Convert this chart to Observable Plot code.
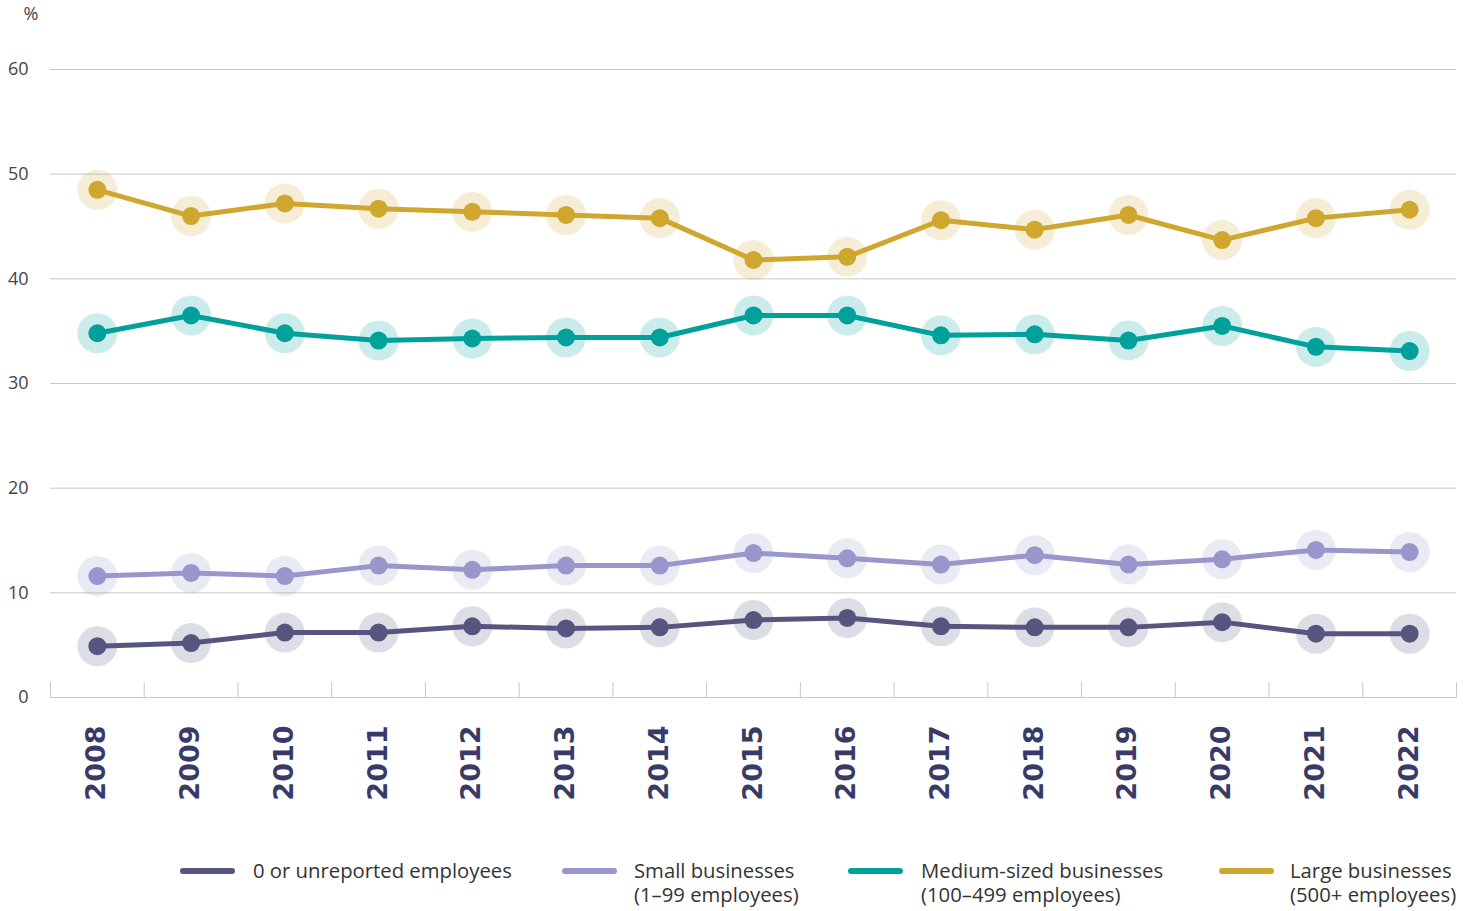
<!DOCTYPE html>
<html>
<head>
<meta charset="utf-8">
<script src="https://cdn.jsdelivr.net/npm/d3@7"></script>
<script src="https://cdn.jsdelivr.net/npm/@observablehq/plot@0.6"></script>
<style>
  html, body { margin: 0; padding: 0; background: #fff; }
  #wrap { position: relative; width: 1473px; font-family: "Open Sans", sans-serif; }
  #legend { position: relative; width: 1473px; height: 71px; }
  .sw { position: absolute; top: 28px; width: 55px; height: 6px; border-radius: 3px; }
  .lab { position: absolute; top: 18px; font-size: 20.3px; line-height: 24px; color: #333; white-space: nowrap; }
</style>
</head>
<body>
<div id="wrap">
  <div id="chart"></div>
  <div id="legend"></div>
</div>
<script>
const years = [2008, 2009, 2010, 2011, 2012, 2013, 2014, 2015, 2016, 2017, 2018, 2019, 2020, 2021, 2022];
const zeroEmp   = [4.9, 5.2, 6.2, 6.2, 6.8, 6.6, 6.7, 7.4, 7.6, 6.8, 6.7, 6.7, 7.2, 6.1, 6.1];
const smallBiz  = [11.6, 11.9, 11.6, 12.6, 12.2, 12.6, 12.6, 13.8, 13.3, 12.7, 13.6, 12.7, 13.2, 14.1, 13.9];
const mediumBiz = [34.8, 36.5, 34.8, 34.1, 34.3, 34.4, 34.4, 36.5, 36.5, 34.6, 34.7, 34.1, 35.5, 33.5, 33.1];
const largeBiz  = [48.5, 46.0, 47.2, 46.7, 46.4, 46.1, 45.8, 41.8, 42.1, 45.6, 44.7, 46.1, 43.7, 45.8, 46.6];
const yTicks = [0, 10, 20, 30, 40, 50, 60];

const seriesNames = ["0 or unreported employees", "Small businesses\n(1\u201399 employees)", "Medium-sized businesses\n(100\u2013499 employees)", "Large businesses\n(500+ employees)"];
const seriesValues = [zeroEmp, smallBiz, mediumBiz, largeBiz];
const seriesColors = ["#55557f", "#9797cc", "#00a09b", "#cfa72f"];

const rows = seriesValues.map((vals, s) => years.map((yr, i) => ({year: yr, value: vals[i], s})));
const bounds = years.map(y => y - 0.5).concat([years[years.length - 1] + 0.5]);

const tickShape = { draw(context, l) { context.moveTo(0, 0); context.lineTo(0, -l); } };

const seriesMarks = rows.flatMap((data, s) => [
  Plot.dot(data, {x: "year", y: "value", r: 20, fill: seriesColors[s], fillOpacity: 0.2, stroke: null}),
  Plot.line(data, {x: "year", y: "value", stroke: seriesColors[s], strokeWidth: 5}),
  Plot.dot(data, {x: "year", y: "value", r: 9, fill: seriesColors[s], stroke: null})
]);

const chart = Plot.plot({
  width: 1473,
  height: 840,
  marginLeft: 50,
  marginRight: 17,
  marginTop: 69,
  marginBottom: 143,
  style: {fontFamily: "Open Sans, sans-serif", background: "#fff"},
  x: {type: "linear", domain: [bounds[0], bounds[bounds.length - 1]], axis: null},
  y: {domain: [0, 60], axis: null},
  marks: [
    Plot.gridY(yTicks, {stroke: "#c8c8c8", strokeOpacity: 1, strokeWidth: 1}),
    Plot.axisY(yTicks, {tickSize: 0, tickPadding: 22, fontSize: 18, fill: "#444", label: null}),
    Plot.text(["%"], {frameAnchor: "top-left", textAnchor: "start", dx: -27, dy: -62, fontSize: 18, fill: "#444"}),
    Plot.vectorX(bounds, {x: d => d, y: () => 0, length: 15, anchor: "start", shape: tickShape, stroke: "#c8c8c8", strokeWidth: 1}),
    Plot.text(years, {x: d => d, text: d => String(d), frameAnchor: "bottom", dx: 8, dy: 28, rotate: -90, textAnchor: "end", fontSize: 27, fontWeight: "bold", fontFamily: "DejaVu Sans", fill: "#383a68"}),
    ...seriesMarks
  ]
});
document.getElementById("chart").appendChild(chart);

const legendPos = [[180, 253], [562, 634], [848, 921], [1219, 1290]];
const legend = document.getElementById("legend");
seriesNames.forEach((name, i) => {
  const sw = document.createElement("div");
  sw.className = "sw";
  sw.style.left = legendPos[i][0] + "px";
  sw.style.background = seriesColors[i];
  legend.appendChild(sw);
  const lab = document.createElement("div");
  lab.className = "lab";
  lab.style.left = legendPos[i][1] + "px";
  lab.innerHTML = name.split("\n").join("<br>");
  legend.appendChild(lab);
});
</script>
</body>
</html>
